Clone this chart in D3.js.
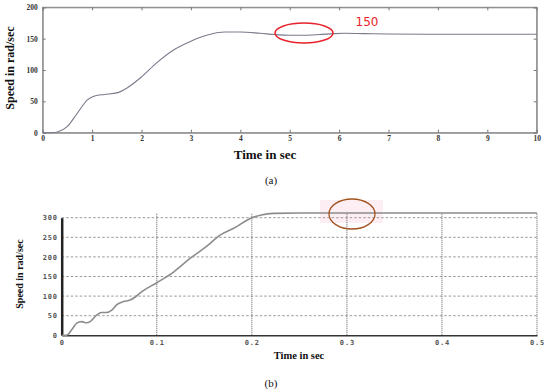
<!DOCTYPE html>
<html><head><meta charset="utf-8">
<script src="https://cdn.jsdelivr.net/npm/d3@7"></script>
<style>html,body{margin:0;padding:0;background:#fff;}svg{display:block;}</style>
</head><body>
<svg id="c" width="550" height="392"></svg>
<script>
// Panel (a)
const aTime  = [0,0.2,0.3,0.5,0.7,0.9,1.05,1.25,1.5,1.7,2.0,2.3,2.65,3.0,3.3,3.7,4.0,4.4,4.7,5.0,5.3,5.6,5.9,6.1,6.5,7,8,9,10];
const aSpeed = [0,0,1,10,31,52,58.5,61,63.5,71,89,111,132,146,155,160.5,160.5,158.5,156.5,155.5,155.5,156.5,158,158.5,158,157.5,157,157,157];
const aXTicks = [0,1,2,3,4,5,6,7,8,9,10];
const aYTicks = [0,50,100,150,200];
// Panel (b)
const bTime  = [0,0.005,0.0105,0.0158,0.021,0.026,0.03,0.037,0.042,0.047,0.053,0.058,0.065,0.072,0.077,0.083,0.1,0.118,0.135,0.153,0.167,0.181,0.2,0.21,0.2225,0.25,0.3,0.4,0.5];
const bSpeed = [0,0,14,31,35,32,35,52,58,58,65,78,86,90,97,109,134,162,196,228,256,273,300,307,311,312,312,312,312];
const bXTicks = [0,0.1,0.2,0.3,0.4,0.5];
const bXLabels = ["0","0.1","0.2","0.3","0.4","0.5"];
const bYTicks = [0,50,100,150,200,250,300];

const svg = d3.select("#c");
const serif = "'Liberation Serif','DejaVu Serif',serif";

// ---------- Panel (a)
const xa = d3.scaleLinear().domain([0,10]).range([42.7,536.7]);
const ya = d3.scaleLinear().domain([0,200]).range([132.7,7.3]);
const ga = svg.append("g");
ga.append("rect").attr("x",xa(0)).attr("y",ya(200)).attr("width",xa(10)-xa(0)).attr("height",ya(0)-ya(200))
  .attr("fill","none").attr("stroke","#8a8a8a").attr("stroke-width",1);
const axB = ga.append("g").attr("transform",`translate(0,${ya(0)})`)
  .call(d3.axisBottom(xa).tickValues(aXTicks).tickSize(-3).tickPadding(3).tickFormat(d3.format("d")));
const axL = ga.append("g").attr("transform",`translate(${xa(0)},0)`)
  .call(d3.axisLeft(ya).tickValues(aYTicks).tickSize(-3).tickPadding(5));
const axT = ga.append("g").attr("transform",`translate(0,${ya(200)})`)
  .call(d3.axisTop(xa).tickValues(aXTicks).tickSize(-3).tickFormat(""));
const axR = ga.append("g").attr("transform",`translate(${xa(10)},0)`)
  .call(d3.axisRight(ya).tickValues(aYTicks).tickSize(-3).tickFormat(""));
[axB,axL,axT,axR].forEach(a=>{
  a.select(".domain").attr("stroke","#8a8a8a");
  a.selectAll(".tick line").attr("stroke","#777");
  a.selectAll("text").attr("font-family",serif).attr("font-weight","bold").attr("font-size",7.5).attr("fill","#333");
});
ga.append("path").datum(aTime.map((t,i)=>[t,aSpeed[i]]))
  .attr("d",d3.line().x(d=>xa(d[0])).y(d=>ya(d[1])).curve(d3.curveMonotoneX))
  .attr("fill","none").attr("stroke","#7a7a8c").attr("stroke-width",1.1);
ga.append("text").attr("transform",`translate(14,68) rotate(-90)`).attr("text-anchor","middle")
  .attr("font-family",serif).attr("font-weight","bold").attr("font-size",12).attr("fill","#111").text("Speed in rad/sec");
ga.append("text").attr("x",265).attr("y",159).attr("text-anchor","middle")
  .attr("font-family",serif).attr("font-weight","bold").attr("font-size",13).attr("fill","#111").text("Time in sec");
ga.append("ellipse").attr("cx",304).attr("cy",33).attr("rx",29).attr("ry",10)
  .attr("fill","none").attr("stroke","#e8222a").attr("stroke-width",1.5);
ga.append("text").attr("x",367).attr("y",26).attr("text-anchor","middle")
  .attr("font-family","'DejaVu Sans',sans-serif").attr("font-size",12).attr("fill","#e8222a").text("150");
svg.append("text").attr("x",271).attr("y",184).attr("text-anchor","middle")
  .attr("font-family",serif).attr("font-size",11).attr("fill","#111").text("(a)");

// ---------- Panel (b)
const xb = d3.scaleLinear().domain([0,0.5]).range([61.7,537]);
const yb = d3.scaleLinear().domain([0,300]).range([335.3,217.7]);
const gb = svg.append("g");
// pink highlight behind circle
gb.append("rect").attr("x",320).attr("y",200).attr("width",63).attr("height",23).attr("fill","#fdeef4");
// horizontal dashed grid
gb.selectAll("line.hg").data(bYTicks.filter(d=>d>0)).join("line")
  .attr("x1",xb(0)).attr("x2",xb(0.5)).attr("y1",d=>yb(d)).attr("y2",d=>yb(d))
  .attr("stroke","#999").attr("stroke-width",1).attr("stroke-dasharray","2.5,2");
// vertical dotted grid
gb.selectAll("line.vg").data(bXTicks.filter(d=>d>0)).join("line")
  .attr("x1",d=>xb(d)).attr("x2",d=>xb(d)).attr("y1",yb(0)).attr("y2",yb(312))
  .attr("stroke","#777").attr("stroke-width",1.2).attr("stroke-dasharray","1,1");
const bxAxis = gb.append("g").attr("transform",`translate(0,${yb(0)})`)
  .call(d3.axisBottom(xb).tickValues(bXTicks).tickSize(0).tickPadding(5).tickFormat((d,i)=>bXLabels[i]));
const byAxis = gb.append("g").attr("transform",`translate(${xb(0)},0)`)
  .call(d3.axisLeft(yb).tickValues(bYTicks).tickSize(0).tickPadding(4));
bxAxis.select(".domain").attr("stroke","#333").attr("stroke-width",1.5);
byAxis.select(".domain").attr("stroke","#222").attr("stroke-width",2.5);
[bxAxis,byAxis].forEach(a=>a.selectAll("text").attr("font-family","'DejaVu Sans Mono',monospace")
  .attr("font-weight","bold").attr("font-size",7).attr("letter-spacing",0.8).attr("fill","#555"));
gb.append("path").datum(bTime.map((t,i)=>[t,bSpeed[i]]))
  .attr("d",d3.line().x(d=>xb(d[0])).y(d=>yb(d[1])).curve(d3.curveMonotoneX))
  .attr("fill","none").attr("stroke","#8c8c8c").attr("stroke-width",1.6);
gb.append("ellipse").attr("cx",352).attr("cy",214).attr("rx",23).attr("ry",15)
  .attr("fill","none").attr("stroke","#a2521e").attr("stroke-width",1.3);
gb.append("text").attr("transform",`translate(23,274) rotate(-90)`).attr("text-anchor","middle")
  .attr("font-family",serif).attr("font-weight","bold").attr("font-size",10).attr("fill","#111").text("Speed in rad/sec");
gb.append("text").attr("x",299).attr("y",359).attr("text-anchor","middle")
  .attr("font-family",serif).attr("font-weight","bold").attr("font-size",10.5).attr("fill","#111").text("Time in sec");
svg.append("text").attr("x",271).attr("y",387).attr("text-anchor","middle")
  .attr("font-family",serif).attr("font-size",11).attr("fill","#111").text("(b)");
</script>
</body></html>
